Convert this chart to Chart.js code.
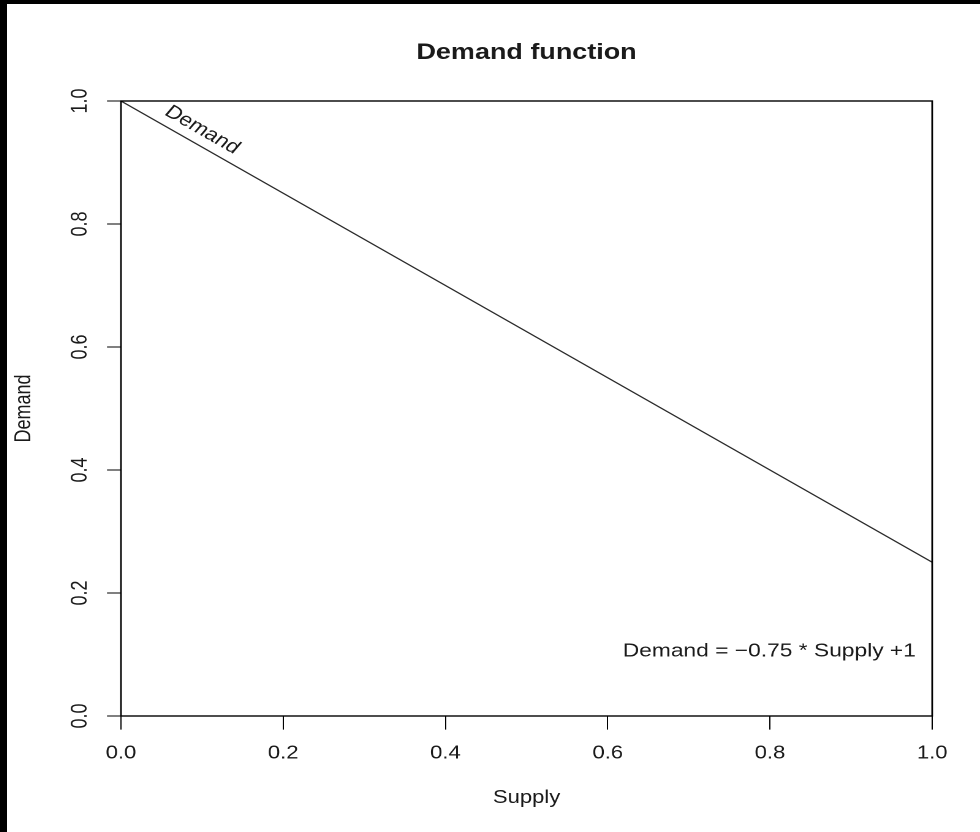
<!DOCTYPE html>
<html>
<head>
<meta charset="utf-8">
<title>Demand function</title>
<script src="https://cdn.jsdelivr.net/npm/chart.js@4/dist/chart.umd.min.js"></script>
<style>
  html, body { margin: 0; padding: 0; background: #000; }
  #frame {
    position: absolute; left: 7px; top: 4px;
    width: 973px; height: 828px;
    background: #fff; overflow: hidden;
  }
  /* the plot is laid out on a narrower sheet and widened to fill the frame */
  #sheet {
    width: 794px; height: 828px;
    transform: scaleX(1.2254); transform-origin: 0 0;
  }
  canvas { display: block; }
</style>
</head>
<body>
<div id="frame"><div id="sheet"><canvas id="chart" width="794" height="828"></canvas></div></div>
<script>
// Linear demand curve: Demand = -0.75 * Supply + 1
const supply = [0.0, 0.2, 0.4, 0.6, 0.8, 1.0];
const demand = [1.0, 0.85, 0.7, 0.55, 0.4, 0.25];
const xTicks = [0.0, 0.2, 0.4, 0.6, 0.8, 1.0];
const yTicks = [0.0, 0.2, 0.4, 0.6, 0.8, 1.0];

const chartTitle = 'Demand function';
const xTitle = 'Supply';
const yTitle = 'Demand';
const curveLabel = 'Demand';
const curveLabelAt = 0.088;
const equation = 'Demand = \u22120.75 * Supply +1';
const equationAt = { x: 0.98, y: 0.105 };

const FONT = "'Liberation Sans', Arial, Helvetica, sans-serif";
const INK = '#1a1a1a';

const points = supply.map((s, i) => ({ x: s, y: demand[i] }));

// frame, titles and in-plot texts
const decorations = {
  id: 'decorations',
  afterDraw(chart) {
    const { ctx, chartArea: a, scales: { x: xs, y: ys } } = chart;
    ctx.save();

    ctx.strokeStyle = '#000';
    ctx.lineWidth = 1.4;
    ctx.strokeRect(a.left, a.top, a.right - a.left, a.bottom - a.top);

    ctx.fillStyle = INK;
    ctx.textAlign = 'center';
    ctx.textBaseline = 'middle';

    ctx.font = 'bold 22px ' + FONT;
    ctx.fillText(chartTitle, (a.left + a.right) / 2, 49);

    ctx.font = '18px ' + FONT;
    ctx.fillText(xTitle, (a.left + a.right) / 2, 794);

    ctx.save();
    ctx.translate(14, (a.top + a.bottom) / 2);
    ctx.rotate(-Math.PI / 2);
    ctx.fillText(yTitle, 0, 0);
    ctx.restore();

    // equation, right aligned at its anchor
    ctx.save();
    ctx.font = '18.6px ' + FONT;
    ctx.textAlign = 'right';
    ctx.fillText(equation, xs.getPixelForValue(equationAt.x), ys.getPixelForValue(equationAt.y));
    ctx.restore();

    // curve name written along the line
    const n = supply.length - 1;
    const x0 = xs.getPixelForValue(supply[0]), y0 = ys.getPixelForValue(demand[0]);
    const x1 = xs.getPixelForValue(supply[n]), y1 = ys.getPixelForValue(demand[n]);
    const t = (curveLabelAt - supply[0]) / (supply[n] - supply[0]);
    const ang = Math.atan2(y1 - y0, x1 - x0);
    ctx.save();
    ctx.font = '18.6px ' + FONT;
    ctx.translate(x0 + (x1 - x0) * t, y0 + (y1 - y0) * t);
    ctx.rotate(ang);
    ctx.textAlign = 'center';
    ctx.textBaseline = 'alphabetic';
    ctx.fillText(curveLabel, 0, -9);
    ctx.restore();

    ctx.restore();
  }
};

new Chart(document.getElementById('chart'), {
  type: 'scatter',
  data: {
    datasets: [{
      data: points,
      showLine: true,
      borderColor: '#2a2a2a',
      borderWidth: 1.2,
      pointRadius: 0,
      fill: false
    }]
  },
  options: {
    responsive: false,
    animation: false,
    devicePixelRatio: 2,
    layout: { padding: { left: 0, top: 97, right: 39, bottom: 0 } },
    plugins: { legend: { display: false }, tooltip: { enabled: false }, title: { display: false } },
    scales: {
      x: {
        type: 'linear', min: 0, max: 1,
        afterBuildTicks: s => { s.ticks = xTicks.map(v => ({ value: v })); },
        afterFit: s => { s.height = 116; },
        grid: { display: true, drawOnChartArea: false, drawTicks: true, tickLength: 13.6, color: '#000', lineWidth: 1 },
        border: { display: true, color: '#000', width: 1 },
        ticks: {
          autoSkip: false, maxRotation: 0, minRotation: 0,
          padding: 13, color: INK,
          font: { family: FONT, size: 18 },
          callback: v => Number(v).toFixed(1)
        }
      },
      y: {
        type: 'linear', min: 0, max: 1,
        afterBuildTicks: s => { s.ticks = yTicks.map(v => ({ value: v })); },
        afterFit: s => { s.width = 93; },
        grid: { display: true, drawOnChartArea: false, drawTicks: true, tickLength: 11.4, color: '#000', lineWidth: 1 },
        border: { display: true, color: '#000', width: 1 },
        ticks: {
          autoSkip: false, minRotation: 90, maxRotation: 90,
          crossAlign: 'center', padding: 9, color: INK,
          font: { family: FONT, size: 18 },
          callback: v => Number(v).toFixed(1)
        }
      }
    }
  },
  plugins: [decorations]
});
</script>
</body>
</html>
